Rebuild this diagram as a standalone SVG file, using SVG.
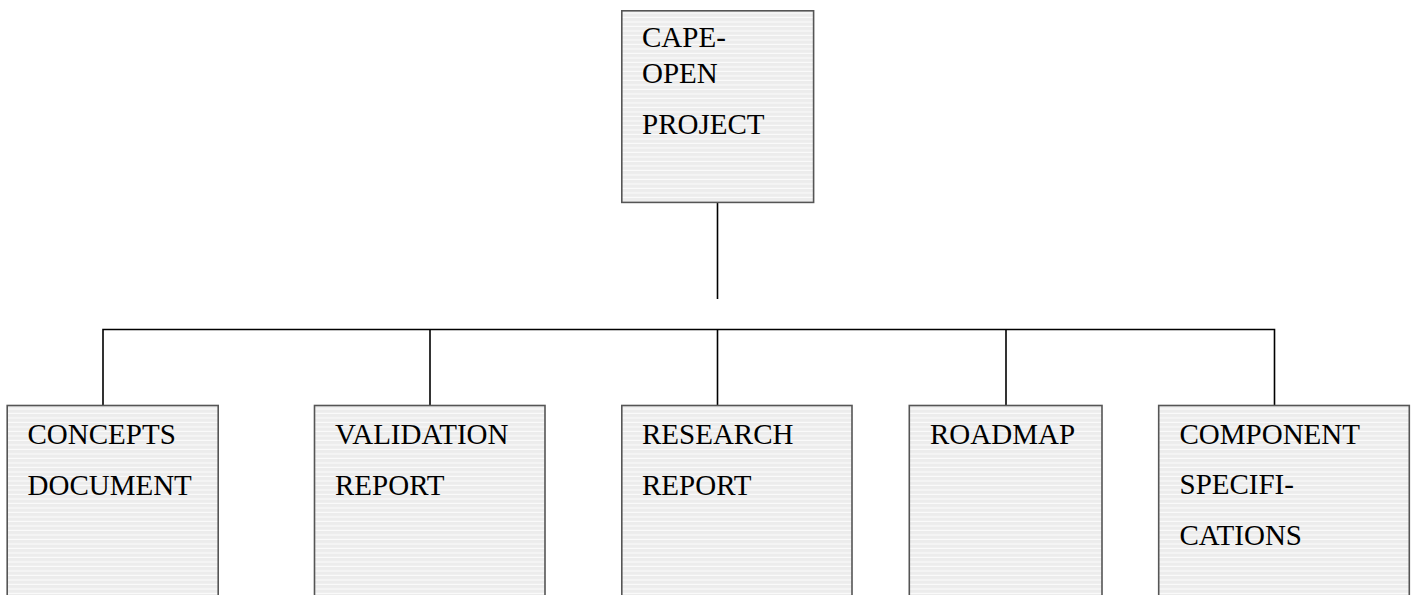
<svg xmlns="http://www.w3.org/2000/svg" width="1417" height="595" viewBox="0 0 1417 595">
<style>
.box{fill:url(#hatch);stroke:#555;stroke-width:1.6}
.lbl{font-family:"Liberation Serif","Times New Roman",serif;font-size:29px;fill:#000}
.conn{stroke:#000;stroke-width:1.6;fill:none}
</style>
<defs>
<pattern id="hatch" patternUnits="userSpaceOnUse" width="10" height="4.5">
<rect width="10" height="4.5" fill="#ececec"/>
<rect y="3.4" width="10" height="1.1" fill="#fbfbfb"/>
</pattern>
</defs>
<rect width="1417" height="595" fill="#fff"/>
<g id="connectors">
<path class="conn" d="M717.5 202V299"/>
<path class="conn" d="M103 406V329.5H1274.5V406"/>
<path class="conn" d="M430 329.5V406"/>
<path class="conn" d="M717.5 329.5V406"/>
<path class="conn" d="M1006 329.5V406"/>
</g>
<g id="cape-open-project">
<rect class="box" x="621.8" y="10.8" width="191.8" height="191.6"/>
<text class="lbl" x="642" y="46.7">CAPE-</text>
<text class="lbl" x="642" y="82.7">OPEN</text>
<text class="lbl" x="642" y="134">PROJECT</text>
</g>
<g id="concepts-document">
<rect class="box" x="7.2" y="405.5" width="211" height="200"/>
<text class="lbl" x="27.5" y="444.3">CONCEPTS</text>
<text class="lbl" x="27.5" y="495">DOCUMENT</text>
</g>
<g id="validation-report">
<rect class="box" x="314.5" y="405.5" width="230.5" height="200"/>
<text class="lbl" x="335" y="444.3">VALIDATION</text>
<text class="lbl" x="335" y="494.5">REPORT</text>
</g>
<g id="research-report">
<rect class="box" x="621.8" y="405.5" width="230.2" height="200"/>
<text class="lbl" x="642" y="444.3">RESEARCH</text>
<text class="lbl" x="642" y="494.5">REPORT</text>
</g>
<g id="roadmap">
<rect class="box" x="909.3" y="405.5" width="192.7" height="200"/>
<text class="lbl" x="930" y="444.3">ROADMAP</text>
</g>
<g id="component-specifications">
<rect class="box" x="1158.7" y="405.5" width="250.6" height="200"/>
<text class="lbl" x="1179.5" y="444.3">COMPONENT</text>
<text class="lbl" x="1179.5" y="493.5">SPECIFI-</text>
<text class="lbl" x="1179.5" y="545">CATIONS</text>
</g>
</svg>
